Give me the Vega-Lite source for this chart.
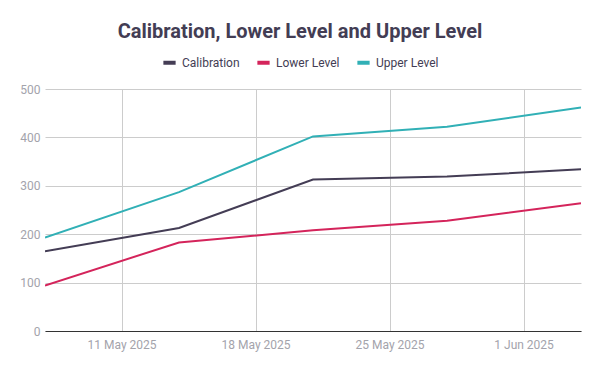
{
  "$schema": "https://vega.github.io/schema/vega-lite/v6.json",
  "width": 536,
  "height": 242,
  "autosize": {"type": "none"},
  "padding": {"left": 45, "top": 89, "right": 19, "bottom": 40},
  "background": "white",
  "title": {
    "text": "Calibration, Lower Level and Upper Level",
    "anchor": "middle",
    "frame": "group",
    "dx": -13,
    "offset": 12,
    "font": "Roboto",
    "fontSize": 20,
    "fontWeight": "bold",
    "color": "#433d54"
  },
  "config": {
    "view": {"stroke": null},
    "font": "Roboto"
  },
  "data": {
    "values": [
      {"date": "2025-05-07", "series": "Calibration", "value": 165},
      {"date": "2025-05-14", "series": "Calibration", "value": 213},
      {"date": "2025-05-21", "series": "Calibration", "value": 313},
      {"date": "2025-05-28", "series": "Calibration", "value": 319},
      {"date": "2025-06-04", "series": "Calibration", "value": 334},
      {"date": "2025-05-07", "series": "Lower Level", "value": 94},
      {"date": "2025-05-14", "series": "Lower Level", "value": 183},
      {"date": "2025-05-21", "series": "Lower Level", "value": 208},
      {"date": "2025-05-28", "series": "Lower Level", "value": 228},
      {"date": "2025-06-04", "series": "Lower Level", "value": 264},
      {"date": "2025-05-07", "series": "Upper Level", "value": 193},
      {"date": "2025-05-14", "series": "Upper Level", "value": 287},
      {"date": "2025-05-21", "series": "Upper Level", "value": 402},
      {"date": "2025-05-28", "series": "Upper Level", "value": 422},
      {"date": "2025-06-04", "series": "Upper Level", "value": 462}
    ]
  },
  "mark": {"type": "line", "strokeWidth": 2, "clip": true},
  "encoding": {
    "x": {
      "field": "date",
      "type": "temporal",
      "scale": {"type": "utc", "nice": false},
      "axis": {
        "title": null,
        "values": [
          {"year": 2025, "month": 5, "date": 11, "utc": true},
          {"year": 2025, "month": 5, "date": 18, "utc": true},
          {"year": 2025, "month": 5, "date": 25, "utc": true},
          {"year": 2025, "month": 6, "date": 1, "utc": true}
        ],
        "format": "%-d %b %Y",
        "grid": true,
        "gridColor": "#cccccc",
        "ticks": false,
        "domain": true,
        "domainColor": "#333333",
        "domainWidth": 1,
        "labelColor": "#a3a3ab",
        "labelFontSize": 12,
        "labelPadding": 8,
        "labelFont": "Roboto"
      }
    },
    "y": {
      "field": "value",
      "type": "quantitative",
      "scale": {"domain": [0, 500], "nice": false},
      "axis": {
        "title": null,
        "values": [0, 100, 200, 300, 400, 500],
        "grid": true,
        "gridColor": "#cccccc",
        "ticks": false,
        "domain": false,
        "labelColor": "#a3a3ab",
        "labelFontSize": 12,
        "labelPadding": 5,
        "labelFont": "Roboto"
      }
    },
    "color": {
      "field": "series",
      "type": "nominal",
      "scale": {
        "domain": ["Calibration", "Lower Level", "Upper Level"],
        "range": ["#443d55", "#d4245b", "#31b0b6"]
      },
      "legend": {
        "title": null,
        "orient": "none",
        "direction": "horizontal",
        "legendX": 116,
        "legendY": -35,
        "symbolType": "stroke",
        "symbolStrokeWidth": 4,
        "symbolSize": 150,
        "labelFontSize": 12,
        "labelColor": "#433d54",
        "labelFont": "Roboto",
        "columnPadding": 9,
        "symbolOffset": 0
      }
    }
  }
}
